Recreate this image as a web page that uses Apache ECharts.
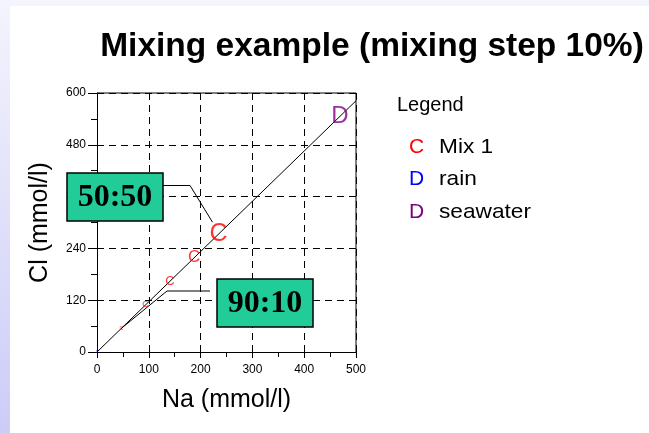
<!DOCTYPE html>
<html><head><meta charset="utf-8">
<script src="https://cdn.jsdelivr.net/npm/echarts@6/dist/echarts.min.js"></script>
<style>html,body{margin:0;padding:0;background:#fff}#c{width:649px;height:433px}</style>
</head><body><div id="c"></div>
<script>
// Data
var rain = [0, 0];              // Na, Cl (mmol/l)
var seawater = [469, 546];      // Na, Cl (mmol/l)
var mixNa = [46.9, 93.8, 140.7, 187.6, 234.5];
var mixCl = [54.6, 109.2, 163.8, 218.4, 273.0];
var mixLineEnd = [500, 582];
var xTicks = [0, 100, 200, 300, 400, 500];
var yTicks = [0, 120, 240, 360, 480, 600];

var chart = echarts.init(document.getElementById('c'), null, {renderer: 'canvas'});
var F = 'Arial, "Liberation Sans", sans-serif';
var mixLabelSizes = [5, 9, 13, 17, 25];

var mixData = mixNa.map(function (x, i) {
  return {value: [x, mixCl[i]], label: {fontSize: mixLabelSizes[i]}};
});

var option = {
  animation: false,
  backgroundColor: '#ffffff',
  title: {
    text: 'Mixing example (mixing step 10%)',
    left: 367, top: 25, textAlign: 'center',
    textStyle: {fontFamily: F, fontWeight: 'bold', fontSize: 33.5, color: '#000'}
  },
  grid: {left: 97, right: 293, top: 93, bottom: 81, containLabel: false},
  xAxis: {
    type: 'value', min: 0, max: 500, interval: 100,
    name: 'Na (mmol/l)', nameLocation: 'middle', nameGap: 36,
    nameTextStyle: {fontFamily: F, fontSize: 25, color: '#000'},
    axisLine: {show: true, lineStyle: {color: '#000', width: 1}},
    axisTick: {show: true, length: 6, lineStyle: {color: '#000'}},
    minorTick: {show: true, splitNumber: 2, length: 5, lineStyle: {color: '#000'}},
    axisLabel: {fontFamily: F, fontSize: 12, color: '#000', margin: 12},
    splitLine: {show: true, lineStyle: {color: '#000', type: [7, 5], width: 1}}
  },
  yAxis: {
    type: 'value', min: 0, max: 600, interval: 120,
    name: 'Cl (mmol/l)', nameLocation: 'middle', nameGap: 44, nameRotate: 90,
    nameTextStyle: {fontFamily: F, fontSize: 25, color: '#000'},
    axisLine: {show: true, lineStyle: {color: '#000', width: 1}},
    axisTick: {show: true, length: 9, lineStyle: {color: '#000'}},
    minorTick: {show: true, splitNumber: 2, length: 6, lineStyle: {color: '#000'}},
    axisLabel: {fontFamily: F, fontSize: 12, color: '#000', margin: 11},
    splitLine: {show: true, lineStyle: {color: '#000', type: [7, 5], width: 1}}
  },
  series: [
    {
      type: 'line', data: [rain, mixLineEnd], symbol: 'none', silent: true,
      lineStyle: {color: '#000', width: 1}, z: 3
    },
    {
      name: 'Mix 1', type: 'scatter', data: mixData, symbolSize: 0, z: 5,
      label: {show: true, position: 'inside', formatter: 'C', color: '#ff0000', fontFamily: F}
    },
    {
      name: 'rain', type: 'scatter', data: [rain], symbolSize: 0, z: 5,
      label: {show: true, position: 'inside', formatter: 'D', color: '#0000ff', fontFamily: F, fontSize: 3}
    },
    {
      name: 'seawater', type: 'scatter', data: [seawater], symbolSize: 0, z: 5,
      label: {show: true, position: 'inside', formatter: 'D', color: '#800080', fontFamily: F, fontSize: 24}
    }
  ]
};
chart.setOption(option);

var tl = chart.convertToPixel({gridIndex: 0}, [0, 600]);
var br = chart.convertToPixel({gridIndex: 0}, [500, 0]);
var p50 = chart.convertToPixel({gridIndex: 0}, mixData[4].value);
var p10 = chart.convertToPixel({gridIndex: 0}, mixData[0].value);

function box(x, y, w, h, txt) {
  return [
    {type: 'rect', z: 30, shape: {x: x, y: y, width: w, height: h},
     style: {fill: '#22cc99', stroke: '#000', lineWidth: 1.5}},
    {type: 'text', z: 31, style: {x: x + w / 2, y: y + h / 2 + 1, text: txt, align: 'center', verticalAlign: 'middle',
      font: 'bold 32px "Liberation Serif", "Times New Roman", serif', fill: '#000'}}
  ];
}
var legendItems = [['C', '#ff0000', 'Mix 1'], ['D', '#0000ff', 'rain'], ['D', '#800080', 'seawater']];
var g = [
  {type: 'rect', shape: {x: 0, y: 0, width: 649, height: 6}, style: {fill: '#f4f4fd'}, z: 0},
  {type: 'rect', shape: {x: 0, y: 0, width: 10, height: 433},
   style: {fill: new echarts.graphic.LinearGradient(0, 0, 0, 1, [{offset: 0, color: '#f4f4fd'}, {offset: 1, color: '#ccccf8'}])}, z: 0},
  {type: 'polyline', shape: {points: [[tl[0], tl[1]], [br[0], tl[1]], [br[0], br[1]]]},
   style: {stroke: '#000', lineWidth: 1, fill: null}, z: 4},
  {type: 'polyline', shape: {points: [[163, 185.5], [190, 185.5], [p50[0] - 6, p50[1] - 12]]},
   style: {stroke: '#000', lineWidth: 1, fill: null}, z: 10},
  {type: 'polyline', shape: {points: [[210, 291], [167, 291], [p10[0], p10[1]]]},
   style: {stroke: '#000', lineWidth: 1, fill: null}, z: 10},
  {type: 'text', style: {x: 397, y: 105, text: 'Legend', verticalAlign: 'middle', font: '20px ' + F, fill: '#000'}, z: 10}
].concat(box(67, 173, 96, 48, '50:50'), box(217, 279, 96, 48, '90:10'));
legendItems.forEach(function (it, i) {
  var y = 147 + i * 32.5;
  g.push({type: 'text', style: {x: 409, y: y, text: it[0], verticalAlign: 'middle', font: '21px ' + F, fill: it[1]}, z: 10});
  g.push({type: 'text', x: 439, y: y, scaleX: 1.08, style: {x: 0, y: 0, text: it[2], verticalAlign: 'middle', font: '21px ' + F, fill: '#000'}, z: 10});
});
chart.setOption({graphic: g});
</script>
</body></html>
